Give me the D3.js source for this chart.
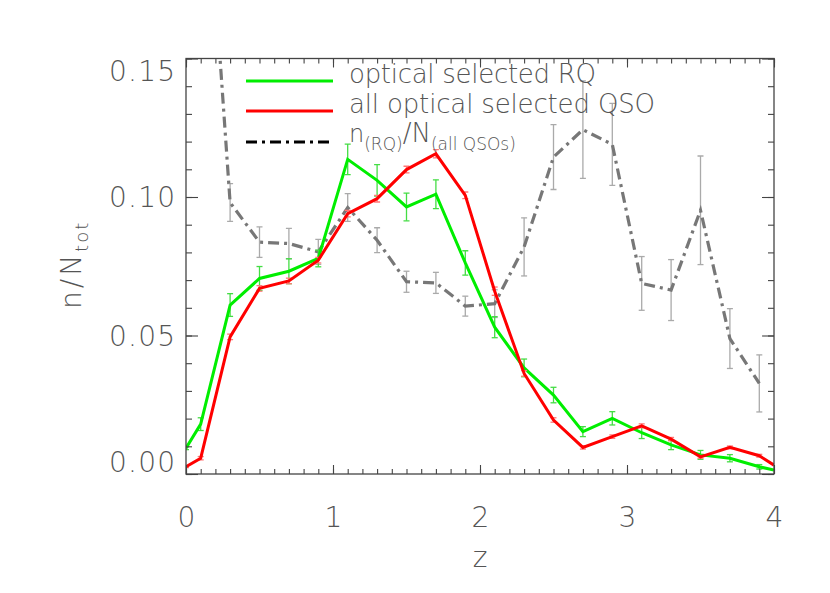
<!DOCTYPE html>
<html>
<head>
<meta charset="utf-8">
<script src="https://cdn.jsdelivr.net/npm/d3@7"></script>
<style>
  html, body { margin: 0; padding: 0; background: #fff; }
  svg text { font-family: "DejaVu Sans", sans-serif; font-weight: 200; fill: #555; }
</style>
</head>
<body>
<svg id="chart" width="830" height="593"></svg>
<script>
// ---- data ----
const zGreen = [0, 0.1, 0.3, 0.5, 0.7, 0.9, 1.1, 1.3, 1.5, 1.7, 1.9, 2.1, 2.3, 2.5, 2.7, 2.9, 3.1, 3.3, 3.5, 3.7, 3.9, 4.0];
const rqValues = [0.0093, 0.018, 0.061, 0.0706, 0.0732, 0.0778, 0.1136, 0.106, 0.0964, 0.101, 0.0762, 0.053, 0.0383, 0.0285, 0.0153, 0.0201, 0.0149, 0.0105, 0.0069, 0.0057, 0.0026, 0.0014];
const rqErrors = [0.0005, 0.0023, 0.0041, 0.0043, 0.0045, 0.003, 0.0055, 0.0057, 0.005, 0.0052, 0.0044, 0.0038, 0.0032, 0.0028, 0.0018, 0.0024, 0.0021, 0.0017, 0.0016, 0.0013, 0.0008, 0];
const qsoValues = [0.0026, 0.0057, 0.0495, 0.067, 0.0697, 0.0772, 0.094, 0.0994, 0.1099, 0.1156, 0.1006, 0.066, 0.0363, 0.0195, 0.0096, 0.0135, 0.0174, 0.0126, 0.0062, 0.0096, 0.0066, 0.0032];
const qsoErrors = [0.0003, 0.0006, 0.001, 0.001, 0.001, 0.001, 0.0012, 0.0012, 0.0012, 0.0015, 0.0012, 0.0015, 0.001, 0.0008, 0.0006, 0.0006, 0.0007, 0.0006, 0.0005, 0.0005, 0.0005, 0];
const zRatio = [0.1, 0.3, 0.5, 0.7, 0.9, 1.1, 1.3, 1.5, 1.7, 1.9, 2.1, 2.3, 2.5, 2.7, 2.9, 3.1, 3.3, 3.5, 3.7, 3.9];
const ratioValues = [0.25, 0.098, 0.0837, 0.0832, 0.0802, 0.0962, 0.0844, 0.0694, 0.069, 0.0606, 0.0615, 0.082, 0.1144, 0.1243, 0.119, 0.0688, 0.0664, 0.0952, 0.0489, 0.0327];
const ratioErrors = [0.02, 0.0068, 0.0055, 0.0055, 0.0045, 0.005, 0.0045, 0.0038, 0.0038, 0.0036, 0.005, 0.0105, 0.0117, 0.0176, 0.0148, 0.0097, 0.011, 0.0196, 0.0108, 0.0103];
const xTicks = [0, 1, 2, 3, 4];
const yTicks = [0, 0.05, 0.10, 0.15];
const yTickLabels = ["0.00", "0.05", "0.10", "0.15"];
const legendLabels = ["optical selected RQ", "all optical selected QSO"];

// ---- layout ----
const svg = d3.select("#chart");
const L = 186, R = 774, T = 58.5, B = 474;
const x = d3.scaleLinear().domain([0, 4]).range([L, R]);
const y = d3.scaleLinear().domain([0, 0.15]).range([B, T]);
const axisColor = "#444";

svg.append("defs").append("clipPath").attr("id", "plotclip")
  .append("rect").attr("x", L).attr("y", T).attr("width", R - L).attr("height", B - T);

const plot = svg.append("g").attr("clip-path", "url(#plotclip)");

function drawErrors(zs, vals, errs, color, width) {
  const g = plot.append("g").attr("stroke", color).attr("stroke-width", width).attr("fill", "none");
  zs.forEach((z, i) => {
    const e = errs[i];
    if (!e) return;
    const cx = x(z), y1 = y(vals[i] - e), y2 = y(vals[i] + e);
    g.append("line").attr("x1", cx).attr("x2", cx).attr("y1", y1).attr("y2", y2);
    g.append("line").attr("x1", cx - 3).attr("x2", cx + 3).attr("y1", y1).attr("y2", y1);
    g.append("line").attr("x1", cx - 3).attr("x2", cx + 3).attr("y1", y2).attr("y2", y2);
  });
}

const line = d3.line().x(d => x(d[0])).y(d => y(d[1]));

// ratio (gray dash-dot)
drawErrors(zRatio, ratioValues, ratioErrors, "#aaa", 1.3);
plot.append("path")
  .datum(zRatio.map((z, i) => [z, ratioValues[i]]))
  .attr("d", line).attr("fill", "none").attr("stroke", "#777")
  .attr("stroke-width", 3.2).attr("stroke-dasharray", "11,5,3,5");

// green RQ
drawErrors(zGreen, rqValues, rqErrors, "#44dd44", 1.3);
plot.append("path")
  .datum(zGreen.map((z, i) => [z, rqValues[i]]))
  .attr("d", line).attr("fill", "none").attr("stroke", "#00ee00").attr("stroke-width", 3)
  .attr("stroke-linejoin", "miter");

// red QSO
drawErrors(zGreen, qsoValues, qsoErrors, "#ff7777", 1.3);
plot.append("path")
  .datum(zGreen.map((z, i) => [z, qsoValues[i]]))
  .attr("d", line).attr("fill", "none").attr("stroke", "#ff0000").attr("stroke-width", 3)
  .attr("stroke-linejoin", "miter");

// ---- axes ----
function styleAxis(g) {
  g.select(".domain").remove();
  g.selectAll(".tick line").attr("stroke", axisColor).attr("stroke-width", 1.1);
}
const xMinor = d3.range(0, 40.5, 1).map(d => d / 10);
const yMinor = d3.range(0, 15.5, 1).map(d => d / 100);

// bottom
svg.append("g").attr("transform", `translate(0,${B})`)
  .call(d3.axisBottom(x).tickValues(xMinor).tickSize(-5).tickFormat(""))
  .call(styleAxis);
const xAx = svg.append("g").attr("transform", `translate(0,${B})`)
  .call(d3.axisBottom(x).tickValues(xTicks).tickSize(-9).tickFormat(d3.format("d")))
  .call(styleAxis);
xAx.selectAll("text").attr("y", 53).attr("dy", 0).style("font-size", "28px").attr("fill", "#555");
// top
svg.append("g").attr("transform", `translate(0,${T})`)
  .call(d3.axisTop(x).tickValues(xMinor).tickSize(-5).tickFormat(""))
  .call(styleAxis);
svg.append("g").attr("transform", `translate(0,${T})`)
  .call(d3.axisTop(x).tickValues(xTicks).tickSize(-9).tickFormat(""))
  .call(styleAxis);
// left
svg.append("g").attr("transform", `translate(${L},0)`)
  .call(d3.axisLeft(y).tickValues(yMinor).tickSize(-6).tickFormat(""))
  .call(styleAxis);
const yAx = svg.append("g").attr("transform", `translate(${L},0)`)
  .call(d3.axisLeft(y).tickValues(yTicks).tickSize(-12).tickPadding(11).tickFormat((d, i) => yTickLabels[i]))
  .call(styleAxis);
yAx.selectAll("text").style("font-size", "28px").attr("fill", "#555")
  .attr("textLength", 66).attr("lengthAdjust", "spacing")
  .attr("dy", (d, i) => i === 0 ? "-0.1em" : (i === yTicks.length - 1 ? "0.8em" : "0.35em"));
// right
svg.append("g").attr("transform", `translate(${R},0)`)
  .call(d3.axisRight(y).tickValues(yMinor).tickSize(-6).tickFormat(""))
  .call(styleAxis);
svg.append("g").attr("transform", `translate(${R},0)`)
  .call(d3.axisRight(y).tickValues(yTicks).tickSize(-12).tickFormat(""))
  .call(styleAxis);
// frame
svg.append("rect").attr("x", L).attr("y", T).attr("width", R - L).attr("height", B - T)
  .attr("fill", "none").attr("stroke", axisColor).attr("stroke-width", 1.3);

// axis titles
svg.append("text").attr("x", 480).attr("y", 567).attr("text-anchor", "middle")
  .style("font-size", "28px").text("z");
const yt = svg.append("text").attr("transform", "translate(81,309) rotate(-90)")
  .style("font-size", "28px").style("letter-spacing", "3px");
yt.append("tspan").text("n/N");
yt.append("tspan").attr("dy", 7).style("font-size", "18px").style("letter-spacing", "2px").text("tot");

// ---- legend ----
const leg = svg.append("g");
leg.append("line").attr("x1", 246).attr("x2", 333).attr("y1", 81).attr("y2", 81)
  .attr("stroke", "#00ee00").attr("stroke-width", 3);
leg.append("line").attr("x1", 246).attr("x2", 333).attr("y1", 111).attr("y2", 111)
  .attr("stroke", "#ff0000").attr("stroke-width", 3);
leg.append("line").attr("x1", 246).attr("x2", 333).attr("y1", 142).attr("y2", 142)
  .attr("stroke", "#000").attr("stroke-width", 3).attr("stroke-dasharray", "11,5,3,5");
leg.append("text").attr("x", 349).attr("y", 83).style("font-size", "26px")
  .attr("textLength", 247).attr("lengthAdjust", "spacing").text(legendLabels[0]);
leg.append("text").attr("x", 349).attr("y", 113).style("font-size", "26px")
  .attr("textLength", 306).attr("lengthAdjust", "spacing").text(legendLabels[1]);
const t3 = leg.append("text").attr("x", 349).attr("y", 142).style("font-size", "24px");
t3.append("tspan").text("n");
t3.append("tspan").attr("dy", 8).style("font-size", "17px").text("(RQ)");
t3.append("tspan").attr("dy", -8).style("font-size", "26px").text("/N");
t3.append("tspan").attr("dy", 8).style("font-size", "17px").text("(all QSOs)");
</script>
</body>
</html>
